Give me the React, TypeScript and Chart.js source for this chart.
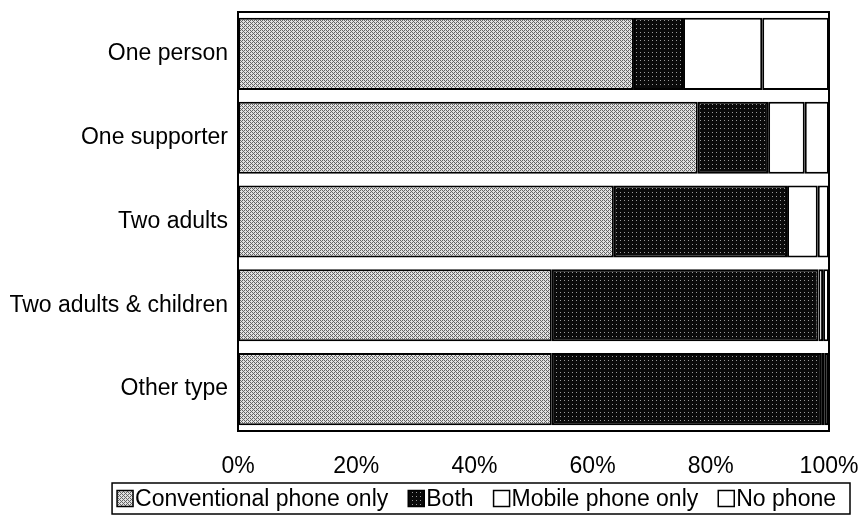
import React, { useEffect, useRef } from 'react';
import { Chart, registerables } from 'chart.js';

Chart.register(...registerables);

const categories = ['One person', 'One supporter', 'Two adults', 'Two adults & children', 'Other type'];
const conventionalOnly = [67.0, 77.8, 63.6, 53.1, 53.1];
const both = [8.3, 11.9, 29.3, 45.1, 45.7];
const mobileOnly = [13.4, 6.2, 5.2, 0.8, 0.5];
const noPhone = [11.3, 4.1, 1.9, 1.0, 0.7];
const seriesLabels = ['Conventional phone only', 'Both', 'Mobile phone only', 'No phone'];
const xTickStep = 20;

const FONT = '"Liberation Sans", Arial, Helvetica, sans-serif';

const BAYER = [
  [0, 8, 2, 10],
  [12, 4, 14, 6],
  [3, 11, 1, 9],
  [15, 7, 13, 5],
];

function makePattern(base: string, dot: string, levels: number): CanvasPattern | string {
  const c = document.createElement('canvas');
  c.width = 4;
  c.height = 4;
  const g = c.getContext('2d');
  if (!g) return base;
  g.fillStyle = base;
  g.fillRect(0, 0, 4, 4);
  g.fillStyle = dot;
  for (let y = 0; y < 4; y++) {
    for (let x = 0; x < 4; x++) {
      if (BAYER[y][x] < levels) g.fillRect(x, y, 1, 1);
    }
  }
  const p = g.createPattern(c, 'repeat');
  return p || base;
}

export default function App() {
  const ref = useRef<HTMLCanvasElement | null>(null);

  useEffect(() => {
    if (!ref.current) return;
    const grayPat = makePattern('#e0e0e0', '#646464', 6);
    const blackPat = makePattern('#0a0a0a', '#9a9a9a', 1);
    const fills = [grayPat, blackPat, '#ffffff', '#ffffff'];
    const values = [conventionalOnly, both, mobileOnly, noPhone];

    const frame = {
      id: 'frame',
      afterDatasetsDraw(chart: any) {
        const { ctx, chartArea } = chart;
        ctx.save();
        ctx.strokeStyle = '#000';
        ctx.lineWidth = 2;
        ctx.strokeRect(chartArea.left, chartArea.top, chartArea.right - chartArea.left, chartArea.bottom - chartArea.top);
        ctx.restore();
      },
    };

    const boxLegend = {
      id: 'boxLegend',
      afterDraw(chart: any) {
        const ctx = chart.ctx;
        ctx.save();
        ctx.font = `23px ${FONT}`;
        ctx.textBaseline = 'middle';
        ctx.fillStyle = '#000';
        const sw = 16;
        const gapText = 2;
        const gapItem = 20;
        const padL = 5;
        const padR = 14;
        const widths = chart.data.datasets.map((d: any) => ctx.measureText(d.label).width);
        let total = padL + padR;
        widths.forEach((w: number, i: number) => {
          total += sw + gapText + w + (i < widths.length - 1 ? gapItem : 0);
        });
        const right = 850;
        const left = right - total;
        const top = 483;
        const h = 31;
        ctx.strokeStyle = '#000';
        ctx.lineWidth = 1.5;
        ctx.strokeRect(left, top, total, h);
        let x = left + padL;
        const cy = top + h / 2;
        chart.data.datasets.forEach((d: any, i: number) => {
          ctx.fillStyle = d.backgroundColor;
          ctx.fillRect(x, cy - sw / 2, sw, sw);
          ctx.lineWidth = 1.5;
          ctx.strokeStyle = '#000';
          ctx.strokeRect(x, cy - sw / 2, sw, sw);
          x += sw + gapText;
          ctx.fillStyle = '#000';
          ctx.fillText(d.label, x, cy + 1);
          x += widths[i] + gapItem;
        });
        ctx.restore();
      },
    };

    const chart = new Chart(ref.current, {
      type: 'bar',
      data: {
        labels: categories,
        datasets: seriesLabels.map((label, i) => ({
          label,
          data: values[i],
          backgroundColor: fills[i] as any,
          borderColor: '#000',
          borderWidth: 2,
          borderSkipped: false,
          barPercentage: 0.86,
          categoryPercentage: 1,
        })),
      },
      options: {
        indexAxis: 'y',
        responsive: false,
        animation: false,
        layout: { padding: { top: 12, right: 35, left: 0, bottom: 0 } },
        plugins: {
          legend: { display: false },
          tooltip: { enabled: false },
        },
        scales: {
          x: {
            stacked: true,
            min: 0,
            max: 100,
            grid: { display: false, drawTicks: false },
            border: { display: true, color: '#000', width: 2 },
            ticks: {
              stepSize: xTickStep,
              color: '#000',
              font: { family: FONT, size: 23 },
              padding: 22,
              maxRotation: 0,
              callback: (v: any) => `${v}%`,
            },
            afterFit: (s: any) => {
              s.height = 85;
              s.paddingLeft = 0;
              s.paddingRight = 0;
            },
          },
          y: {
            stacked: true,
            grid: { display: false, drawTicks: false },
            border: { display: true, color: '#000', width: 2 },
            ticks: {
              color: '#000',
              font: { family: FONT, size: 23 },
              padding: 10,
            },
            afterFit: (s: any) => {
              s.width = 238;
              s.paddingTop = 0;
              s.paddingBottom = 0;
            },
          },
        },
      },
      plugins: [frame, boxLegend],
    });
    return () => chart.destroy();
  }, []);

  return (
    <div style={{ position: 'absolute', left: 0, top: 0, width: 864, height: 516, background: '#fff' }}>
      <canvas ref={ref} width={864} height={516} />
    </div>
  );
}
